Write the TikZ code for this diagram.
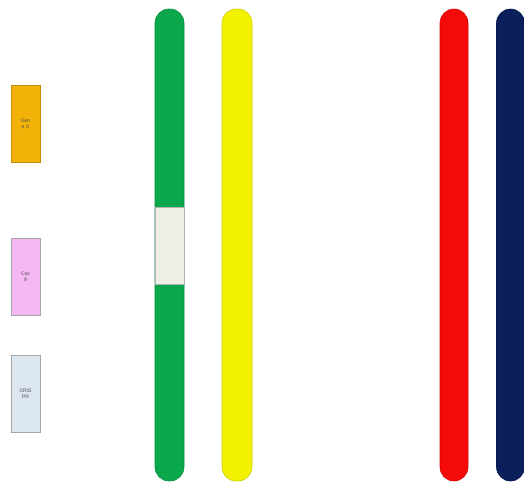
\documentclass[tikz,border=0pt]{standalone}
\usepackage{fontspec}
\setmainfont{Liberation Sans}
\begin{document}
\begin{tikzpicture}[x=1pt,y=-1pt,
  bar/.style={rounded corners=14pt, draw=#1!85!black, line width=0.6pt, fill=#1},
  lab/.style={draw=gray!70, line width=0.6pt, minimum width=29pt, minimum height=77pt, inner sep=1pt, align=center, font=\fontsize{5}{6}\selectfont, text=black!70},
]
\definecolor{cgreen}{HTML}{0AA84A}
\definecolor{cyellow}{HTML}{F2F200}
\definecolor{cred}{HTML}{F50A0A}
\definecolor{cnavy}{HTML}{0B1F5C}
\definecolor{corange}{HTML}{F2B208}
\definecolor{cpink}{HTML}{F5B8F5}
\definecolor{cblue}{HTML}{DCE6F0}
\definecolor{cgray}{HTML}{EEEEE4}
\useasboundingbox (0,0) rectangle (524,483);
\fill[white] (0,0) rectangle (524,483);
\node[bar=cgreen, minimum width=29pt, minimum height=472pt, inner sep=0pt] (green) at (169.5,245) {};
\node[bar=cyellow, minimum width=30pt, minimum height=472pt, inner sep=0pt] (yellow) at (237,245) {};
\node[bar=cred, minimum width=28pt, minimum height=472pt, inner sep=0pt] (red) at (454,245) {};
\node[bar=cnavy, minimum width=28pt, minimum height=472pt, inner sep=0pt] (navy) at (510.5,245) {};
\node[draw=gray!60, line width=0.6pt, fill=cgray, minimum width=29pt, minimum height=77pt, inner sep=0pt] (insert) at (169.5,245.5) {};
\node[lab, fill=corange, draw=corange!80!black] (genex) at (25.5,123.5) {Gen\\e X};
\node[lab, fill=cpink] (cas9) at (25.5,277) {Cas\\9};
\node[lab, fill=cblue] (crispr) at (25.5,393.5) {CRIS\\PR};
\end{tikzpicture}
\end{document}
